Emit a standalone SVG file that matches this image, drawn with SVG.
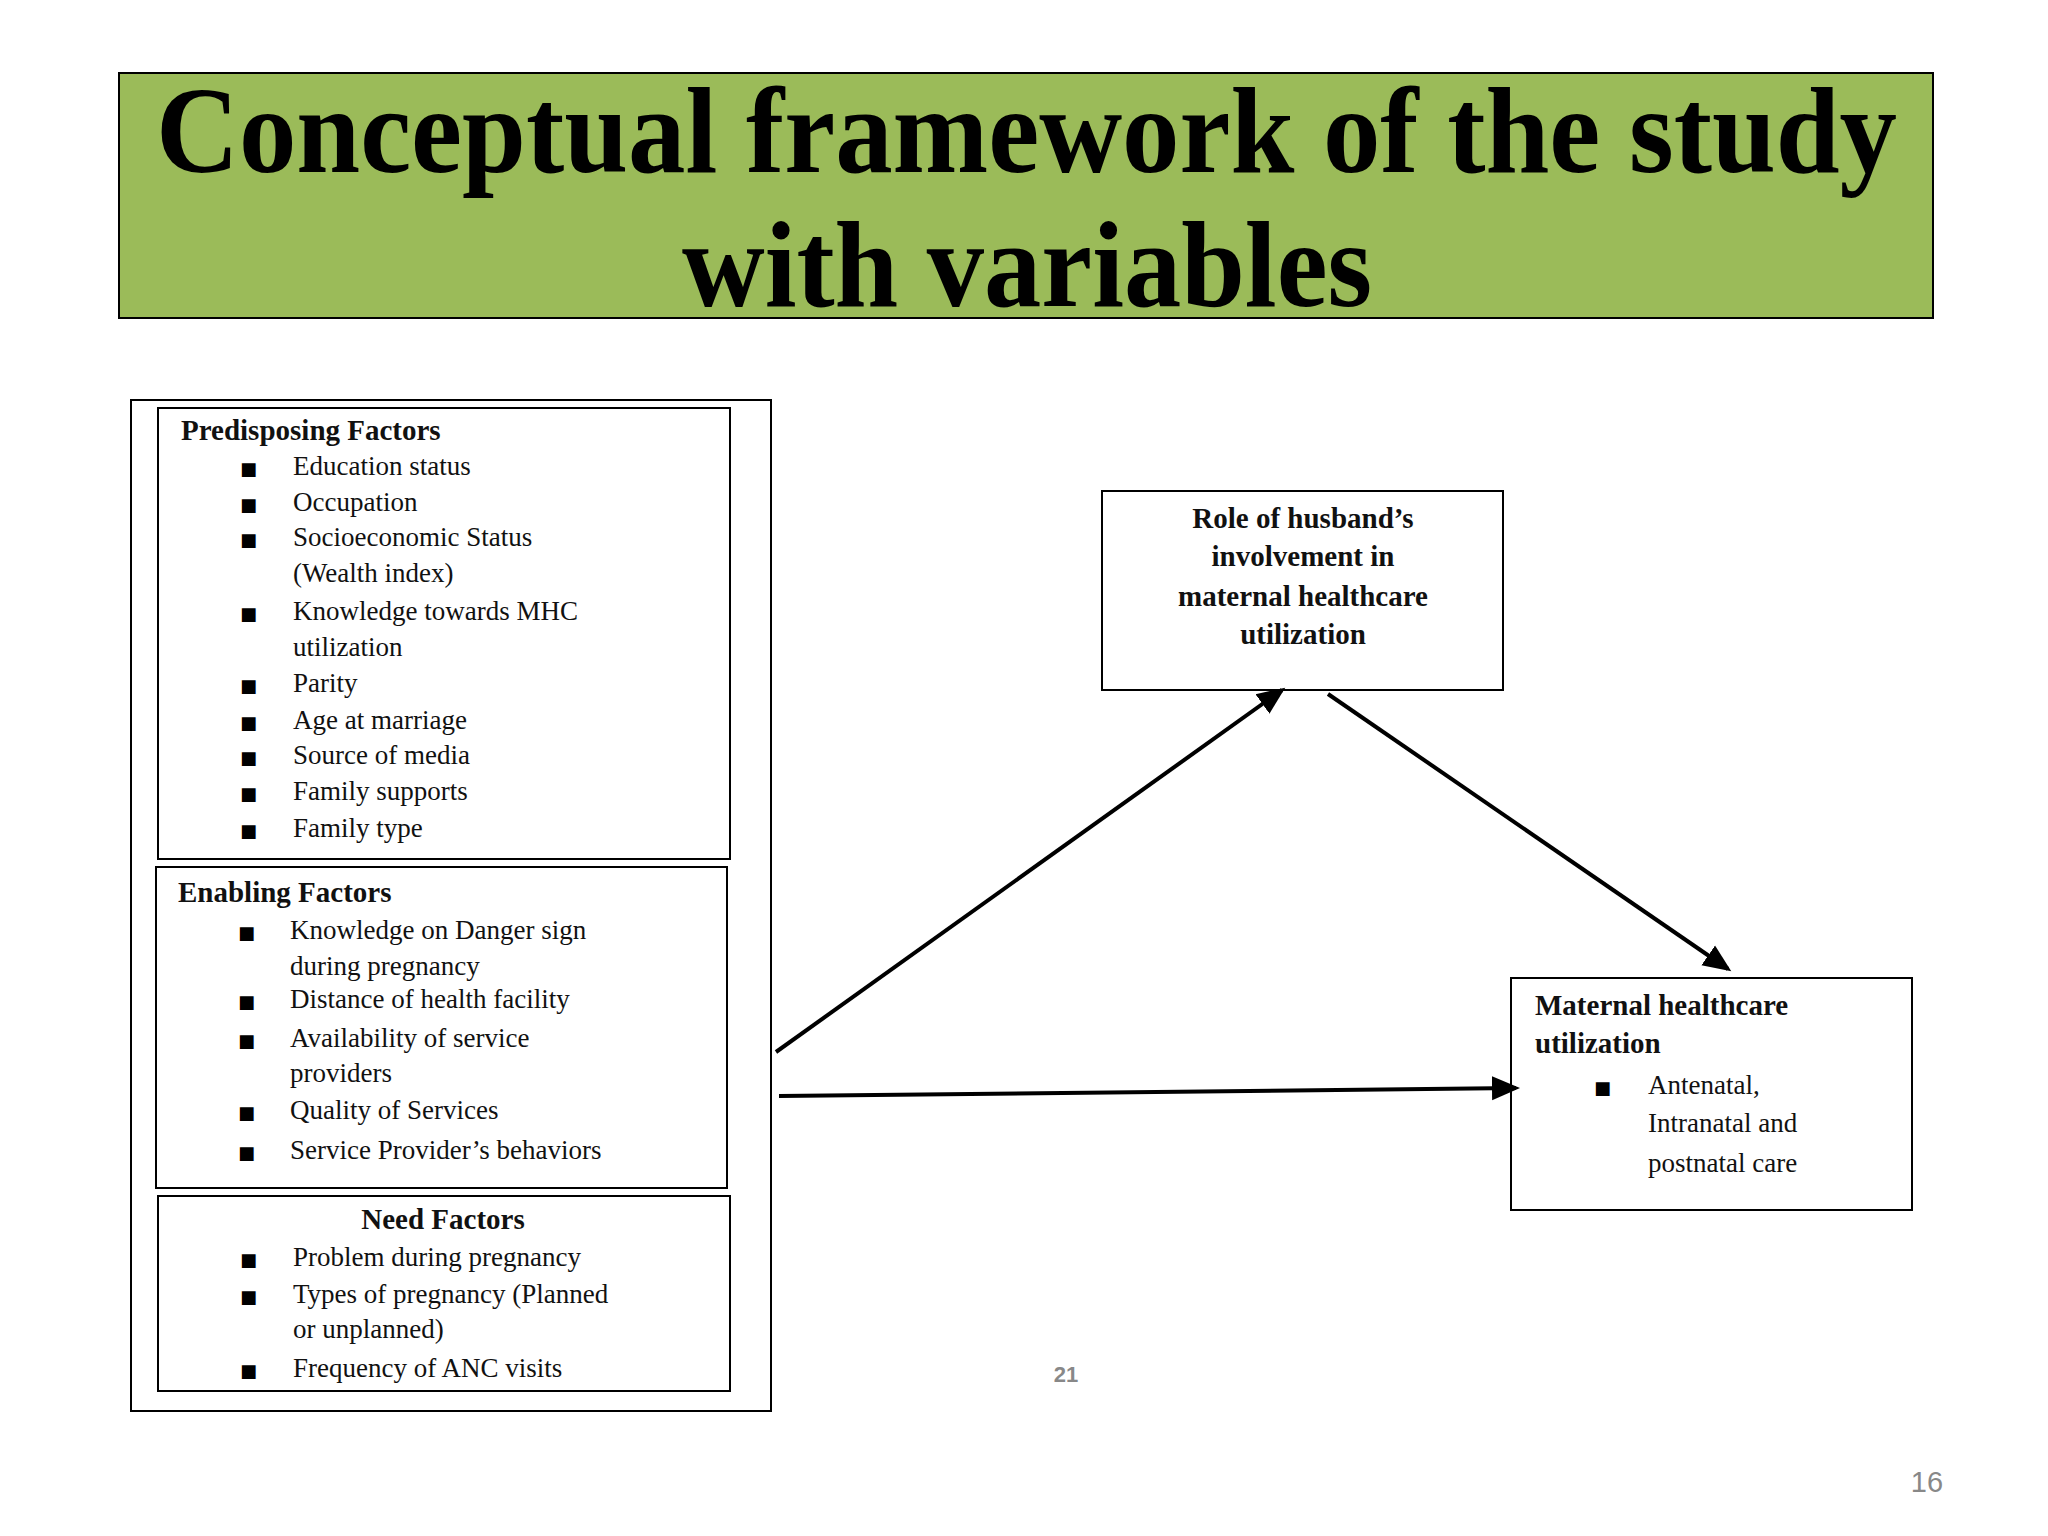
<svg xmlns="http://www.w3.org/2000/svg" width="2048" height="1536" viewBox="0 0 2048 1536">
<defs>
<style>
.box{fill:#fff;stroke:#000;stroke-width:2}
.t{font-family:"Liberation Serif",serif;font-size:27px;fill:#111}
.b{font-family:"Liberation Serif",serif;font-size:29px;font-weight:bold;fill:#111}
.bul{font-family:"DejaVu Sans",sans-serif;font-size:18px;fill:#000}
.ln{stroke:#000;stroke-width:4;fill:none}
</style>
<marker id="ah" markerWidth="8" markerHeight="8" refX="6" refY="4" orient="auto" markerUnits="strokeWidth"><path d="M0,1 L7,4 L0,7 z" fill="#000"/></marker>
</defs>
<rect width="2048" height="1536" fill="#fff"/>
<g id="title">
<rect x="119" y="73" width="1814" height="245" fill="#9bbb59" stroke="#000" stroke-width="2"/>
<text x="156" y="172" font-family="Liberation Serif,serif" font-weight="bold" font-size="122" textLength="1741" lengthAdjust="spacingAndGlyphs">Conceptual framework of the study</text>
<text x="682" y="306" font-family="Liberation Serif,serif" font-weight="bold" font-size="122" textLength="690" lengthAdjust="spacingAndGlyphs">with variables</text>
</g>
<g id="outer"><rect class="box" x="131" y="400" width="640" height="1011"/></g>
<g id="predisposing">
<rect class="box" x="158" y="408" width="572" height="451"/>
<text class="b" x="181" y="440" font-size="28">Predisposing Factors</text>
<g class="bul"><text x="240" y="475">■</text><text x="240" y="511">■</text><text x="240" y="546">■</text><text x="240" y="620">■</text><text x="240" y="692">■</text><text x="240" y="729">■</text><text x="240" y="764">■</text><text x="240" y="800">■</text><text x="240" y="837">■</text></g>
<text class="t" x="293" y="475">Education status</text>
<text class="t" x="293" y="511">Occupation</text>
<text class="t" x="293" y="546">Socioeconomic Status</text>
<text class="t" x="293" y="582">(Wealth index)</text>
<text class="t" x="293" y="620">Knowledge towards MHC</text>
<text class="t" x="293" y="656">utilization</text>
<text class="t" x="293" y="692">Parity</text>
<text class="t" x="293" y="729">Age at marriage</text>
<text class="t" x="293" y="764">Source of  media</text>
<text class="t" x="293" y="800">Family supports</text>
<text class="t" x="293" y="837">Family type</text>
</g>
<g id="enabling">
<rect class="box" x="156" y="867" width="571" height="321"/>
<text class="b" x="178" y="902" font-size="28">Enabling Factors</text>
<g class="bul"><text x="238" y="939">■</text><text x="238" y="1008">■</text><text x="238" y="1047">■</text><text x="238" y="1119">■</text><text x="238" y="1159">■</text></g>
<text class="t" x="290" y="939">Knowledge on Danger sign</text>
<text class="t" x="290" y="975">during pregnancy</text>
<text class="t" x="290" y="1008">Distance of health  facility</text>
<text class="t" x="290" y="1047">Availability of service</text>
<text class="t" x="290" y="1082">providers</text>
<text class="t" x="290" y="1119">Quality of Services</text>
<text class="t" x="290" y="1159">Service Provider’s behaviors</text>
</g>
<g id="need">
<rect class="box" x="158" y="1196" width="572" height="195"/>
<text class="b" x="443" y="1229" font-size="28" text-anchor="middle">Need Factors</text>
<g class="bul"><text x="240" y="1266">■</text><text x="240" y="1303">■</text><text x="240" y="1377">■</text></g>
<text class="t" x="293" y="1266">Problem during pregnancy</text>
<text class="t" x="293" y="1303">Types of pregnancy (Planned</text>
<text class="t" x="293" y="1338">or unplanned)</text>
<text class="t" x="293" y="1377">Frequency of ANC visits</text>
</g>
<g id="role">
<rect class="box" x="1102" y="491" width="401" height="199"/>
<g class="b" text-anchor="middle">
<text x="1303" y="528">Role of husband’s</text>
<text x="1303" y="566">involvement in</text>
<text x="1303" y="606">maternal healthcare</text>
<text x="1303" y="644">utilization</text>
</g>
</g>
<g id="maternal">
<rect class="box" x="1511" y="978" width="401" height="232"/>
<text class="b" x="1535" y="1015">Maternal healthcare</text>
<text class="b" x="1535" y="1053">utilization</text>
<text class="bul" x="1594" y="1094">■</text>
<text class="t" x="1648" y="1094" font-size="29">Antenatal,</text>
<text class="t" x="1648" y="1132" font-size="29">Intranatal and</text>
<text class="t" x="1648" y="1172" font-size="29">postnatal care</text>
</g>
<g id="connectors">
<line class="ln" x1="776" y1="1052" x2="1282" y2="690" marker-end="url(#ah)"/>
<line class="ln" x1="1328" y1="694" x2="1728" y2="969" marker-end="url(#ah)"/>
<line class="ln" x1="779" y1="1096" x2="1516" y2="1088" marker-end="url(#ah)"/>
</g>
<text x="1066" y="1382" font-family="Liberation Sans,sans-serif" font-weight="bold" font-size="22" fill="#888" text-anchor="middle">21</text>
<text x="1927" y="1492" font-family="Liberation Sans,sans-serif" font-size="29" fill="#888" text-anchor="middle">16</text>
</svg>
